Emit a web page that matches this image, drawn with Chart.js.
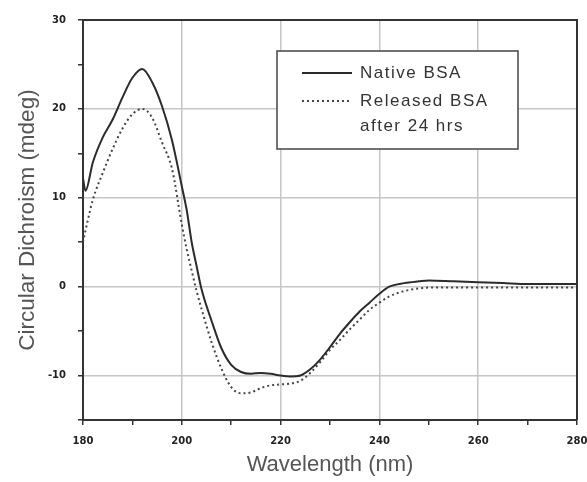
<!DOCTYPE html>
<html>
<head>
<meta charset="utf-8">
<script src="https://cdn.jsdelivr.net/npm/chart.js@4/dist/chart.umd.min.js"></script>
<style>
  html, body { margin: 0; padding: 0; background: #fff; }
  #wrap { width: 587px; height: 482px; }
</style>
</head>
<body>
<div id="wrap"><canvas id="cd"></canvas></div>
<script>
const wavelengths = [180, 180.5, 182, 184, 186, 188, 190, 192, 194, 196, 198, 200, 201, 202, 203, 204,
  206, 208, 210, 212, 214, 216, 218, 220, 222, 224, 226, 228, 230, 232, 234, 236, 238, 240, 242,
  245, 248, 250, 255, 260, 265, 270, 275, 280];
const nativeBSA = [12.2, 10.8, 14.0, 16.8, 18.8, 21.3, 23.5, 24.5, 23.0, 20.3, 16.5, 11.3, 8.6, 5.0, 2.3, -0.3,
  -3.8, -6.9, -8.8, -9.6, -9.8, -9.7, -9.8, -10.0, -10.1, -10.0, -9.3, -8.2, -6.8, -5.3, -4.0, -2.8, -1.8, -0.8, 0.0,
  0.4, 0.6, 0.7, 0.6, 0.5, 0.4, 0.3, 0.3, 0.3];
const releasedBSA = [5.0, 6.3, 9.8, 12.8, 15.5, 17.8, 19.4, 20.0, 19.0, 16.2, 13.3, 7.0, 4.2, 1.8, -0.5, -2.5,
  -6.2, -9.2, -11.3, -12.0, -11.9, -11.4, -11.1, -11.0, -10.9, -10.6, -9.7, -8.5, -7.1, -6.0, -4.8, -3.7, -2.6, -1.8, -1.1,
  -0.5, -0.2, -0.1, -0.1, -0.1, -0.1, -0.1, -0.1, -0.1];
const legendLabels = [['Native BSA'], ['Released BSA', 'after 24 hrs']];

const INK = '#333';
const GRID = '#c6c6c6';

const toPoints = (ys) => wavelengths.map((x, i) => ({ x, y: ys[i] }));

// top + right edges of the plot box
const framePlugin = {
  id: 'frame',
  afterDraw(chart) {
    const { ctx, chartArea: a } = chart;
    ctx.save();
    ctx.strokeStyle = INK;
    ctx.lineWidth = 2;
    ctx.beginPath();
    ctx.moveTo(a.left, a.top);
    ctx.lineTo(a.right, a.top);
    ctx.lineTo(a.right, a.bottom);
    ctx.stroke();
    ctx.restore();
  },
};

const boxLegend = {
  id: 'boxLegend',
  afterDraw(chart) {
    const { ctx, chartArea: a } = chart;
    const left = a.left + 194;
    const top = a.top + 31;
    ctx.save();
    ctx.fillStyle = '#fff';
    ctx.fillRect(left, top, 241, 98);
    ctx.strokeStyle = '#444';
    ctx.lineWidth = 1.5;
    ctx.strokeRect(left, top, 241, 98);

    ctx.font = '17px "Liberation Sans", Arial, sans-serif';
    ctx.letterSpacing = '1.5px';
    ctx.fillStyle = '#333';
    ctx.textBaseline = 'middle';
    let y = top + 22;
    chart.data.datasets.forEach((ds, i) => {
      ctx.strokeStyle = ds.borderColor;
      ctx.lineWidth = ds.borderWidth;
      ctx.setLineDash(ds.borderDash || []);
      ctx.beginPath();
      ctx.moveTo(left + 25, y);
      ctx.lineTo(left + 75, y);
      ctx.stroke();
      ctx.setLineDash([]);
      legendLabels[i].forEach((line, j) => {
        ctx.fillText(line, left + 83, y + j * 25);
      });
      y += 28;
    });
    ctx.restore();
  },
};

new Chart(document.getElementById('cd'), {
  type: 'line',
  data: {
    datasets: [
      {
        label: 'Native BSA',
        data: toPoints(nativeBSA),
        borderColor: '#2b2b2b',
        borderWidth: 2,
        pointRadius: 0,
        cubicInterpolationMode: 'monotone',
      },
      {
        label: 'Released BSA after 24 hrs',
        data: toPoints(releasedBSA),
        borderColor: '#444',
        borderWidth: 2,
        borderDash: [2, 3],
        pointRadius: 0,
        cubicInterpolationMode: 'monotone',
      },
    ],
  },
  options: {
    responsive: true,
    maintainAspectRatio: false,
    animation: false,
    layout: { padding: { top: 20, right: 10, left: 0, bottom: 0 } },
    plugins: { legend: { display: false }, tooltip: { enabled: false } },
    scales: {
      x: {
        type: 'linear',
        min: 180,
        max: 280,
        afterFit: (s) => {
          s.height = 62;
          s.paddingLeft = 0;
          s.paddingRight = 0;
        },
        ticks: {
          stepSize: 10,
          padding: 10,
          color: '#222',
          font: { family: '"DejaVu Sans"', size: 10, weight: 'bold' },
          maxRotation: 0,
          callback: (v) => (v % 20 === 0 ? v : ''),
        },
        grid: {
          color: (c) => (c.tick && c.tick.value % 20 === 0 ? GRID : 'rgba(0,0,0,0)'),
          lineWidth: 1.5,
          tickLength: 5,
          tickColor: INK,
          tickWidth: 1.5,
        },
        border: { color: INK, width: 2 },
        title: {
          display: true,
          text: 'Wavelength (nm)',
          color: '#555',
          font: { family: '"Liberation Sans", Arial, sans-serif', size: 22 },
          padding: { top: 0, bottom: 4 },
        },
      },
      y: {
        min: -15,
        max: 30,
        afterFit: (s) => {
          s.width = 83;
          s.paddingTop = 0;
          s.paddingBottom = 0;
        },
        ticks: {
          stepSize: 5,
          padding: 12,
          color: '#222',
          font: { family: '"DejaVu Sans"', size: 10, weight: 'bold' },
          callback: (v) => (v % 10 === 0 ? v : ''),
        },
        grid: {
          color: (c) => (c.tick && c.tick.value % 10 === 0 ? GRID : 'rgba(0,0,0,0)'),
          lineWidth: 1.5,
          tickLength: 5,
          tickColor: INK,
          tickWidth: 1.5,
        },
        border: { color: INK, width: 2 },
        title: {
          display: true,
          text: 'Circular Dichroism (mdeg)',
          color: '#555',
          font: { family: '"Liberation Sans", Arial, sans-serif', size: 22.5 },
          padding: { top: 14, bottom: 0 },
        },
      },
    },
  },
  plugins: [framePlugin, boxLegend],
});
</script>
</body>
</html>
